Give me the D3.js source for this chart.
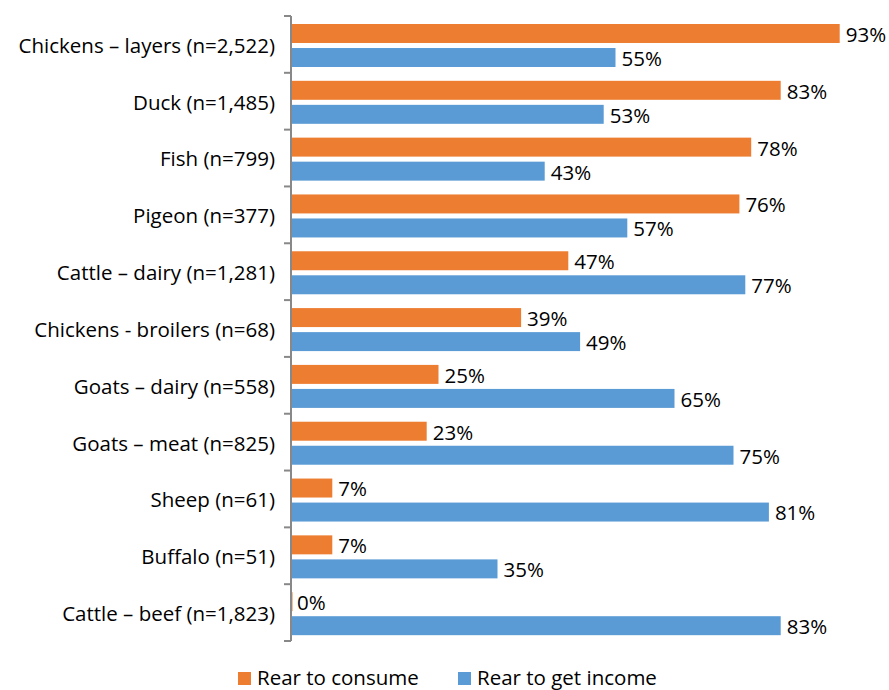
<!DOCTYPE html>
<html><head><meta charset="utf-8">
<script src="https://cdn.jsdelivr.net/npm/d3@7"></script>
<style>body{margin:0;background:#fff}svg{display:block}text{font-family:"Open Sans",sans-serif;fill:#000}</style>
</head><body><svg id="c" width="889" height="690"></svg>
<script>
const categories = ["Chickens – layers (n=2,522)","Duck (n=1,485)","Fish (n=799)","Pigeon (n=377)","Cattle – dairy (n=1,281)","Chickens - broilers (n=68)","Goats – dairy (n=558)","Goats – meat (n=825)","Sheep (n=61)","Buffalo (n=51)","Cattle – beef (n=1,823)"];
const rearToConsume = [93,83,78,76,47,39,25,23,7,7,0];
const rearToGetIncome = [55,53,43,57,77,49,65,75,81,35,83];
const seriesNames = ["Rear to consume","Rear to get income"];
const colors = ["#ED7D31","#5B9BD5"];

const svg = d3.select("#c");
const x = d3.scaleLinear().domain([0,100]).range([291,881]);
const y = d3.scaleBand().domain(categories).range([16,641]).padding(0);
const y1 = d3.scaleBand().domain([0,1]).range([8,51]).paddingInner(0.21).paddingOuter(0);
const data = categories.map((c,i)=>({c, vals:[rearToConsume[i], rearToGetIncome[i]]}));
const FS = 20.5;
const g = svg.append("g");
data.forEach(d=>{
  d.vals.forEach((v,k)=>{
    const yy = y(d.c)+y1(k);
    g.append("rect").attr("x",x(0)).attr("y",yy).attr("width",Math.max(x(v)-x(0),1.5)).attr("height",y1.bandwidth()).attr("fill",colors[k]);
    g.append("text").attr("x",x(v)+6).attr("y",yy+y1.bandwidth()/2+1).attr("dy","0.36em").attr("font-size",FS).text(v+"%");
  });
  g.append("text").attr("x",275).attr("y",y(d.c)+y.bandwidth()/2+1).attr("dy","0.36em").attr("text-anchor","end").attr("font-size",FS).text(d.c);
});
// axis
const ax = svg.append("g").attr("stroke","#888").attr("stroke-width",2);
ax.append("line").attr("x1",291).attr("x2",291).attr("y1",16).attr("y2",641);
const bounds = categories.map(c=>y(c)).concat([y.range()[1]]);
bounds.forEach(b=>ax.append("line").attr("x1",284).attr("x2",291).attr("y1",b).attr("y2",b));
// legend
const lx = [238,458];
seriesNames.forEach((s,k)=>{
  svg.append("rect").attr("x",lx[k]).attr("y",672).attr("width",13).attr("height",13).attr("fill",colors[k]);
  svg.append("text").attr("x",lx[k]+19).attr("y",678).attr("dy","0.36em").attr("font-size",FS).text(s);
});
</script></body></html>
